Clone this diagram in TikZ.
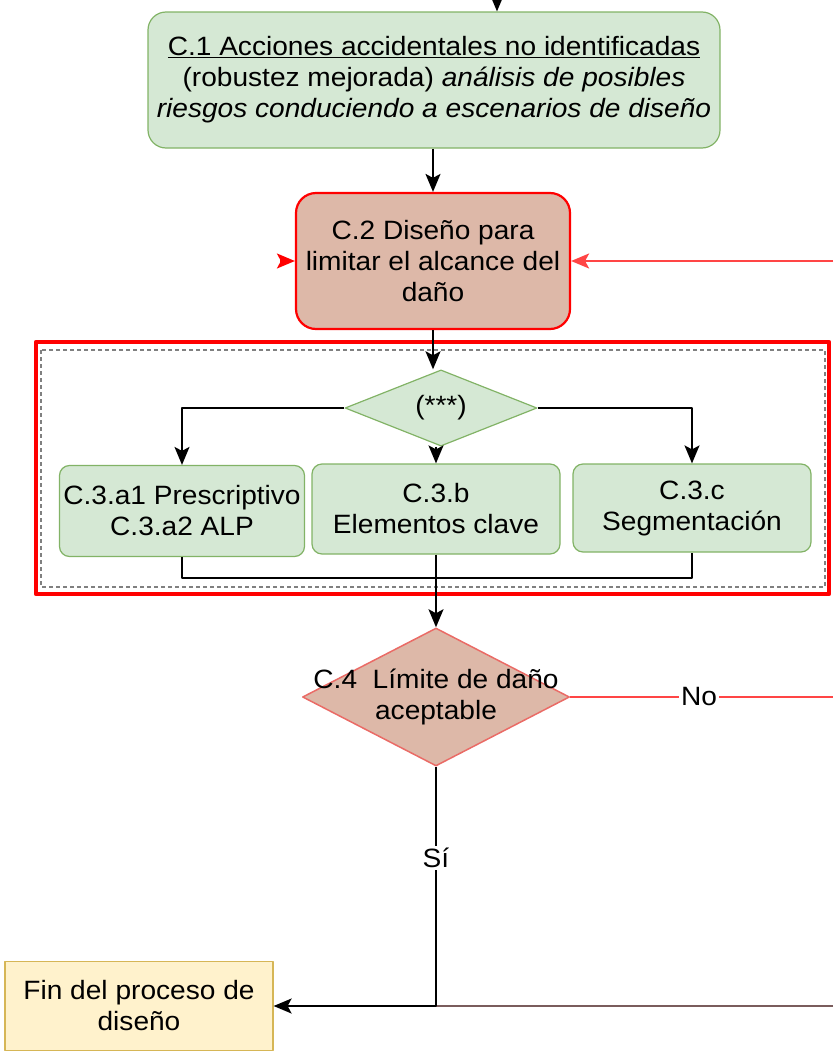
\documentclass[tikz,border=0pt]{standalone}
\usepackage{fontspec}
\setmainfont{Liberation Sans}[FakeStretch=1.06]
\usetikzlibrary{arrows.meta,shapes.geometric}
\definecolor{boxgreen}{HTML}{D5E8D4}
\definecolor{linegreen}{HTML}{82B366}
\definecolor{boxrose}{HTML}{DDB8A8}
\definecolor{linerose}{HTML}{EA6B66}
\definecolor{boxyellow}{HTML}{FFF2CC}
\definecolor{lineyellow}{HTML}{D6B656}
\definecolor{linered}{HTML}{FF4545}
\definecolor{linebrown}{HTML}{7A5C5C}
\begin{document}
\begin{tikzpicture}[x=1pt, y=-1pt, line join=round, >={Stealth[length=18pt,width=15pt,inset=4pt]},
  font=\fontsize{26.5}{31}\selectfont,
  greenbox/.style={draw=linegreen, fill=boxgreen, line width=1.2pt, rounded corners=10pt, align=center, inner sep=0pt},
  rosebox/.style={draw=red, fill=boxrose, line width=2.2pt, rounded corners=20pt, align=center, inner sep=0pt},
  greendiam/.style={diamond, draw=linegreen, fill=boxgreen, line width=1.2pt, inner sep=0pt},
  rosediam/.style={diamond, draw=linerose, fill=boxrose, line width=1.5pt, inner sep=0pt},
  endbox/.style={draw=lineyellow, fill=boxyellow, line width=1.2pt, align=center, inner sep=0pt},
  conn/.style={line width=1.8pt},
  tag/.style={fill=white, text=black, inner sep=2pt}]
  % Picture frame (833 x 1052 px)
  \useasboundingbox (0,0) rectangle (833,1052);

  % Grouping frames round the C.3 options
  \draw[red, line width=4.5pt] (36,342) rectangle (829,594);
  \draw[gray, line width=1.2pt, dash pattern=on 4pt off 3pt] (41,350) rectangle (825,587);

  % Main boxes
  \node[greenbox, rounded corners=18pt, minimum width=572pt, minimum height=136pt] (c1) at (434,80)
    {\underline{C.1 Acciones accidentales no identificadas}\\(robustez mejorada) \textit{análisis de posibles}\\\textit{riesgos conduciendo a escenarios de diseño}};
  \node[rosebox, minimum width=274pt, minimum height=136pt] (c2) at (433,261)
    {C.2 Diseño para\\limitar el alcance del\\daño};

  % Choice of strategy
  \node[greendiam, minimum width=192pt, minimum height=66pt] (c3) at (441,408) {(***)};
  \node[greenbox, minimum width=245pt, minimum height=91pt] (c3a) at (182,511) {C.3.a1 Prescriptivo\\C.3.a2 ALP};
  \node[greenbox, minimum width=248pt, minimum height=90pt] (c3b) at (436,509) {C.3.b\\Elementos clave};
  \node[greenbox, minimum width=238pt, minimum height=88pt] (c3c) at (692,508) {C.3.c\\Segmentación};

  % Check of the damage
  \node[rosediam, minimum width=267pt, minimum height=138pt,
    label={[align=center]center:C.4\ \ Límite de daño\\aceptable}] (c4) at (436,697) {};
  \node[endbox, minimum width=268pt, minimum height=89pt] (fin) at (139,1006) {Fin del proceso de\\diseño};

  % Free ends of the connectors
  \coordinate (top) at (497,0);
  \coordinate (backin) at (833,261);
  \coordinate (leftin) at (280,261);
  \coordinate (join) at (436,578);
  \coordinate (noout) at (833,697);
  \coordinate (corner) at (436,1006);
  \coordinate (backout) at (833,1006);

  % Connectors
  \draw[conn, ->] (top) -- (top |- c1.north);
  \draw[conn, ->] (c2.north |- c1.south) -- (c2.north);
  \draw[conn, linered, ->] (backin) -- (c2.east);
  \draw[conn, red, ->] (leftin) -- (c2.west);
  \draw[conn, ->] (c2.south) -- (c2.south |- c3.north);
  \draw[conn, ->] (c3.west) -| (c3a.north);
  \draw[conn, ->] (c3b.north |- c3.south) -- (c3b.north);
  \draw[conn, ->] (c3.east) -| (c3c.north);
  \draw[conn] (c3a.south) |- (join) -| (c3c.south);
  \draw[conn, ->] (c3b.south) -- (c4.north);
  \draw[conn, linered] (c4.east) -- (noout) node[tag, pos=0.49] {No};
  \draw[conn, linebrown] (backout) -- (corner);
  \draw[conn, ->] (c4.south) -- (corner) node[tag, pos=0.38] {Sí} -- (fin.east);
\end{tikzpicture}
\end{document}
